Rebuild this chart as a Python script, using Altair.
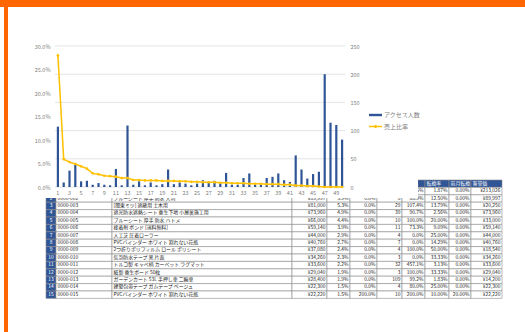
import altair as alt
import pandas as pd

# ---------------- chart data ----------------
rank = list(range(1, 51))
access = [107, 8, 29, 39, 10, 11, 4, 7, 4, 3, 32, 3, 109, 4, 10,
          3, 8, 3, 5, 31, 5, 8, 6, 3, 6, 12, 7, 11, 7, 25,
          4, 4, 16, 24, 4, 4, 16, 18, 24, 12, 9, 56, 31, 15, 23, 27, 200, 114, 110, 84]
ratio_pct = [28.0, 5.9, 5.3, 4.9, 4.4, 3.9, 2.9, 2.7, 2.4, 2.3, 2.2, 1.9, 1.9, 1.5, 1.5,
             1.4, 1.4, 1.4, 1.3, 1.3, 1.3, 1.2, 1.2, 1.1, 1.1, 1.0, 1.0, 1.0, 0.9, 0.9,
             0.8, 0.8, 0.8, 0.7, 0.7, 0.7, 0.6, 0.6, 0.6, 0.5, 0.5, 0.3, 0.3, 0.2, 0.2,
             0.1, 0.0, 0.0, 0.0, 0.0]
x_labels = [1, 3, 5, 7, 9, 11, 13, 15, 17, 19, 21, 23, 25, 27, 29, 31, 33, 35, 37, 39,
            41, 43, 45, 47, 49]
left_ticks = [0, 0.05, 0.10, 0.15, 0.20, 0.25, 0.30]
right_ticks = [0, 50, 100, 150, 200, 250]
legend_names = ["アクセス人数", "売上比率"]

# ---------------- table data ----------------
t_no = ["1", "2", "3", "4", "5", "6", "7", "8", "9", "10", "11", "12", "13", "14", "15"]
t_code = ["0000-001", "0000-002", "0000-003", "0000-004", "0000-005", "0000-006", "0000-007",
          "0000-008", "0000-009", "0000-010", "0000-011", "0000-012", "0000-013", "0000-014",
          "0000-015"]
t_name = ["ウッドデッキ 樹脂 人工木 フェンス", "ブルーシート 厚手 防水 大判",
          "[関東ミツ] 遮蔽用 土木用", "遮光防水遮熱シート 養生下地 小屋裏施工用",
          "ブルーシート 厚手 防水 ハトメ", "接着剤 ボンド [送料無料]", "人工芝 圧着ローラー",
          "PVCバインダー ホワイト 割れない花瓶", "2つ折りポリフィルム ロール ポリシート",
          "気泡防水テープ 黒 片面", "トルコ製 キャペ柄 カーペット ラグマット",
          "紙製 養生ボード 50枚", "ガーデンカート 53L 手押し車 二輪車",
          "建築包帯テープ ガムテープ ベージュ", "PVCバインダー ホワイト 割れない花瓶"]
t_sales = ["¥426,052", "¥89,997", "¥81,000", "¥73,960", "¥66,000", "¥59,140", "¥44,000",
           "¥40,760", "¥37,080", "¥34,260", "¥33,600", "¥29,040", "¥28,400", "¥22,300",
           "¥22,220"]
t_ratio = ["28.0%", "5.9%", "5.3%", "4.9%", "4.4%", "3.9%", "2.9%", "2.7%", "2.4%", "2.3%",
           "2.2%", "1.9%", "1.9%", "1.5%", "1.5%"]
t_mom = ["0.0%", "0.0%", "0.0%", "0.0%", "0.0%", "0.0%", "0.0%", "0.0%", "0.0%", "0.0%",
         "0.0%", "0.0%", "0.0%", "0.0%", "200.0%"]
t_acc = ["107", "8", "29", "39", "10", "11", "4", "7", "4", "3", "32", "3", "109", "4", "10"]
t_acc_mom = ["95.5%", "88.9%", "107.4%", "90.7%", "100.0%", "73.3%", "0.0%", "0.0%",
             "100.0%", "0.0%", "457.1%", "100.0%", "99.2%", "80.0%", "200.0%"]
t_cvr = ["1.87%", "12.50%", "13.79%", "2.56%", "20.00%", "9.09%", "25.00%", "14.29%",
         "50.00%", "33.33%", "3.13%", "33.33%", "1.83%", "25.00%", "10.00%"]
t_cvr_prev = ["0.00%", "0.00%", "0.00%", "0.00%", "0.00%", "0.00%", "0.00%", "0.00%",
              "0.00%", "0.00%", "0.00%", "0.00%", "0.00%", "0.00%", "20.00%"]
t_aov = ["¥213,026", "¥89,997", "¥20,250", "¥73,960", "¥33,000", "¥59,140", "¥44,000",
         "¥40,760", "¥18,540", "¥34,260", "¥33,600", "¥29,040", "¥14,200", "¥22,300",
         "¥22,220"]
t_headers = ["No", "商品コード", "商品名", "売上", "売上比率", "前月比", "アクセス",
             "前月比", "転換率", "前月転換", "客単価"]

# ---------------- layout (not data) ----------------
OX, OY = 55, 46          # plot origin in page pixels
PW, PH = 290, 141        # plot size
col_edges = [46, 56, 112, 292, 327, 350, 377, 402, 425, 449, 471, 502]
col_align = ["center", "left", "left", "right", "right", "right", "right", "right",
             "right", "right", "right"]
ROW_TOP, ROW_H = 180, 7.4
COVER_R, COVER_B = 418, 198
FONT = "Noto Sans CJK JP"
GREY = "#808080"
BLUE = "#2F5597"
GOLD = "#FFC000"

columns = [t_no, t_code, t_name, t_sales, t_ratio, t_mom, t_acc, t_acc_mom, t_cvr,
           t_cvr_prev, t_aov]
recs = []
for r in range(16):
    for ci in range(len(columns)):
        if r == 0:
            txt, kind = t_headers[ci], "head"
        else:
            txt, kind = columns[ci][r - 1], ("num" if ci == 0 else "cell")
        left, right = col_edges[ci], col_edges[ci + 1]
        al = col_align[ci] if r > 0 else ("center" if ci == 0 else "left")
        tx = left + 1.5 if al == "left" else (right - 1.5 if al == "right" else (left + right) / 2)
        ybot = ROW_TOP + ROW_H * (r + 1)
        hidden = (right <= COVER_R) and (ybot < COVER_B)
        recs.append(dict(row=r, left=left, right=right, text=txt, kind=kind, align=al, tx=tx,
                         vis=0 if hidden else 1))
tdf = pd.DataFrame(recs)

XS = alt.Scale(domain=[0, 525], range=[-OX, 525 - OX], nice=False, zero=False)
YS = alt.Scale(domain=[0, 16], range=[ROW_TOP - OY, ROW_TOP + ROW_H * 16 - OY], nice=False,
               zero=False)

one = pd.DataFrame({"a": [0]})


def px(v):
    return alt.value(v - OX)


def py(v):
    return alt.value(v - OY)


cells = alt.Chart(tdf).transform_calculate(row2="datum.row + 1").mark_rect(
    stroke="#8c8c8c", strokeWidth=0.6).encode(
    x=alt.X("left:Q", scale=XS, axis=None), x2="right:Q",
    y=alt.Y("row:Q", scale=YS, axis=None), y2="row2:Q",
    fill=alt.Fill("kind:N", scale=alt.Scale(domain=["head", "num", "cell"],
                                              range=[BLUE, BLUE, "#ffffff"]), legend=None))


def tlayer(al):
    return alt.Chart(tdf).transform_filter(
        (alt.datum.align == al) & (alt.datum.vis == 1)).transform_calculate(
        yc="datum.row + 0.5").mark_text(align=al, baseline="middle", fontSize=4.9,
                                         font=FONT).encode(
        x=alt.X("tx:Q", scale=XS, axis=None), y=alt.Y("yc:Q", scale=YS, axis=None),
        text="text:N",
        color=alt.Color("kind:N", scale=alt.Scale(domain=["head", "num", "cell"],
                                                   range=["#ffffff", "#ffffff", "#222222"]),
                        legend=None))


cover = alt.Chart(one).mark_rect(color="#ffffff").encode(
    x=px(12), x2=px(COVER_R), y=py(10), y2=py(COVER_B))

cdf = pd.DataFrame({"rank": rank, "access": access,
                    "ratio": [v / 100 for v in ratio_pct]})
gdf = pd.DataFrame({"v": right_ticks})

grid = alt.Chart(gdf).mark_rule(color="#d9d9d9", strokeWidth=0.7).encode(
    y=alt.Y("v:Q", scale=alt.Scale(domain=[0, 250]), axis=None),
    x=alt.value(0), x2=alt.value(PW))

xscale = alt.Scale(paddingInner=0, paddingOuter=0)
bars = alt.Chart(cdf).mark_bar(size=2.2, color=BLUE).encode(
    x=alt.X("rank:O", scale=xscale,
            axis=alt.Axis(values=x_labels, labelAngle=0, labelFontSize=5.5, labelColor=GREY,
                          labelFont=FONT, domain=False, ticks=False, title=None,
                          labelPadding=3, zindex=1)),
    y=alt.Y("access:Q", scale=alt.Scale(domain=[0, 250]),
            axis=alt.Axis(orient="right", values=right_ticks, grid=False, domain=False,
                          ticks=False, labelFontSize=5.5, labelColor=GREY, labelFont=FONT,
                          title=None, labelPadding=5, zindex=1)))

line = alt.Chart(cdf).mark_line(color=GOLD, strokeWidth=1.5,
                                point=alt.OverlayMarkDef(color=GOLD, size=7, filled=True)).encode(
    x=alt.X("rank:O", scale=xscale, axis=None),
    y=alt.Y("ratio:Q", scale=alt.Scale(domain=[0, 0.3]),
            axis=alt.Axis(orient="left", values=left_ticks, format=".1%", grid=False,
                          domain=False, ticks=False, labelFontSize=5.5, labelColor=GREY,
                          labelFont=FONT, title=None, labelPadding=5, zindex=1)))

leg_bar = alt.Chart(one).mark_rect(color=BLUE).encode(
    x=px(369), x2=px(382), y=py(113.8), y2=py(116.2))
leg_line = alt.Chart(one).mark_rule(color=GOLD, strokeWidth=1.5).encode(
    x=px(369), x2=px(382), y=py(126.5))
leg_pt = alt.Chart(one).mark_point(color=GOLD, filled=True, size=8, opacity=1).encode(
    x=px(375.5), y=py(126.5))
leg_t1 = alt.Chart(one).mark_text(text=legend_names[0], align="left", baseline="middle",
                                  fontSize=6, color=GREY, font=FONT).encode(
    x=px(384), y=py(115))
leg_t2 = alt.Chart(one).mark_text(text=legend_names[1], align="left", baseline="middle",
                                  fontSize=6, color=GREY, font=FONT).encode(
    x=px(384), y=py(126.5))

frame_top = alt.Chart(one).mark_rect(color="#FF6600").encode(
    x=px(0), x2=px(525), y=py(0), y2=py(7))
frame_left = alt.Chart(one).mark_rect(color="#FF6600").encode(
    x=px(4), x2=px(8), y=py(0), y2=py(332))

chart = alt.layer(
    cells, tlayer("left"), tlayer("right"), tlayer("center"),
    cover, grid, bars, line,
    leg_bar, leg_line, leg_pt, leg_t1, leg_t2,
    frame_top, frame_left
).resolve_scale(x="independent", y="independent", fill="independent",
                color="independent").properties(
    width=PW, height=PH,
    autosize=alt.AutoSizeParams(type="none"),
    padding={"left": OX, "top": OY, "right": 525 - OX - PW, "bottom": 332 - OY - PH},
    background="#ffffff"
).configure_view(stroke=None)

chart.save("out.html", embed_options={"renderer": "svg", "actions": False})
